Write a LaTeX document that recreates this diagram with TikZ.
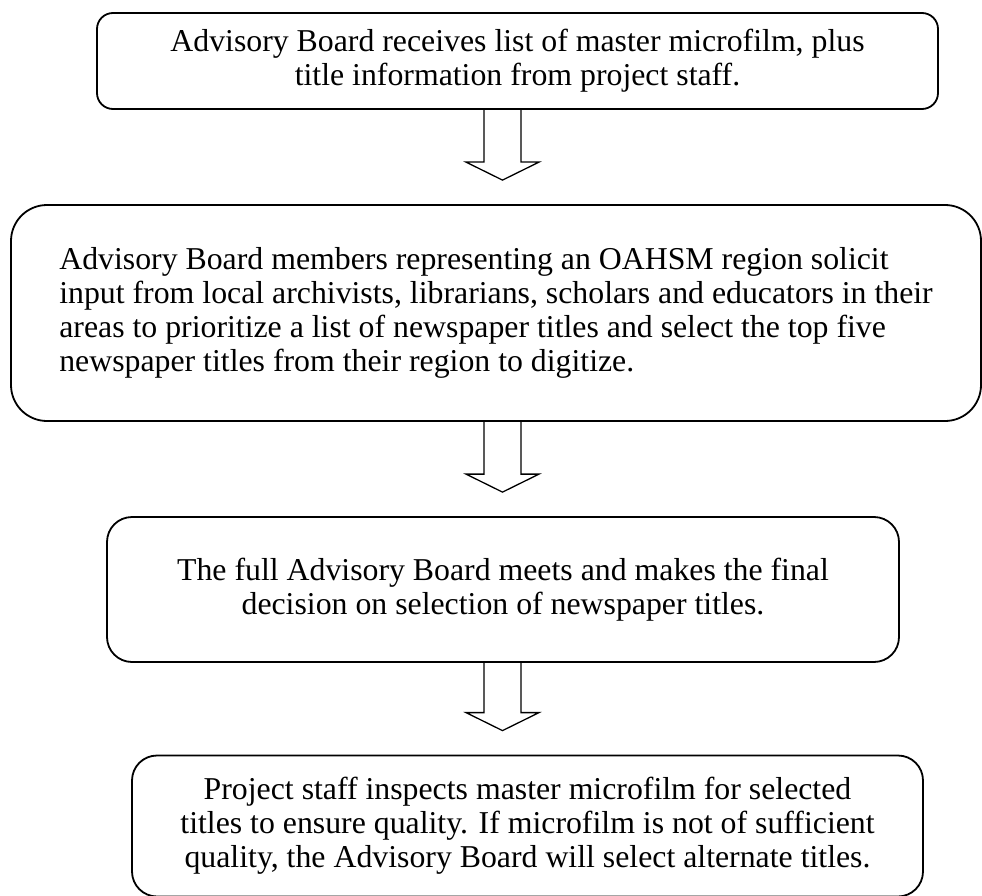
\documentclass[tikz,border=0pt]{standalone}
\usepackage{fontspec}
\setmainfont{Liberation Serif}
\usetikzlibrary{calc}
\tikzset{
  stepbox/.style={draw=black,line width=1.8pt,fill=white,align=center,inner sep=0pt,
    font=\fontsize{31.8}{34}\selectfont},
  hollow/.style={draw=black,line width=1.3pt,line join=miter},
}
% hollow block arrow hanging below box #1, tip just above box #2
\newcommand{\StepArrow}[2]{%
  \coordinate (s) at (#1.south -| axis);
  \coordinate (t) at ($(#2.north -| axis)+(0,-24)$);
  \draw[hollow] ($(s)+(-18.5,0)$) -- ($(t)+(-18.5,-18)$) -- ($(t)+(-36.5,-18)$) -- (t)
    -- ($(t)+(36.5,-18)$) -- ($(t)+(18.5,-18)$) -- ($(s)+(18.5,0)$);
}
\begin{document}
\begin{tikzpicture}[x=1pt,y=-1pt]
  \useasboundingbox (0,0) rectangle (982,896);
  \coordinate (axis) at (502.5,0);

  \node[stepbox,rounded corners=16pt,minimum width=841pt,minimum height=96pt] (receive) at (517.5,61)
    {Advisory Board receives list of master microfilm, plus\\title information from project staff.};

  \node[stepbox,rounded corners=36pt,minimum width=970pt,minimum height=216pt,align=left]
    (solicit) at (496,313)
    {Advisory Board members representing an OAHSM region solicit\\
     input from local archivists, librarians, scholars and educators in their\\
     areas to prioritize a list of newspaper titles and select the top five\\
     newspaper titles from their region to digitize.};

  \node[stepbox,rounded corners=25pt,minimum width=792pt,minimum height=145pt] (decide) at (503,589.5)
    {The full Advisory Board meets and makes the final\\decision on selection of newspaper titles.};

  \node[stepbox,rounded corners=25pt,minimum width=791pt,minimum height=141pt] (inspect) at (527.5,826)
    {Project staff inspects master microfilm for selected\\
     titles to ensure quality. If microfilm is not of sufficient\\
     quality, the Advisory Board will select alternate titles.};

  \StepArrow{receive}{solicit}
  \StepArrow{solicit}{decide}
  \StepArrow{decide}{inspect}
\end{tikzpicture}
\end{document}
